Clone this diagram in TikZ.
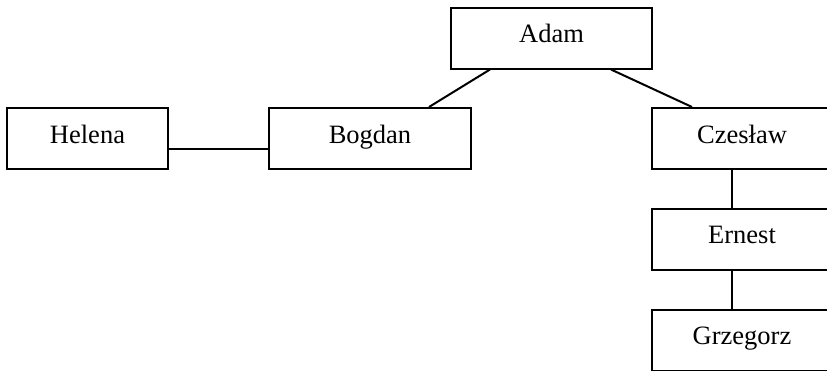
\documentclass[tikz,border=0pt]{standalone}
\usepackage{fontspec}
\setmainfont{Liberation Serif}
\begin{document}
\begin{tikzpicture}[x=1pt,y=-1pt,
  person/.style={draw,line width=2pt,inner sep=0pt,minimum height=61pt,text height=12pt,text depth=3pt,font=\fontsize{26.5}{30}\selectfont},
  link/.style={line width=2pt}]
\clip (0,0) rectangle (827,370);
\fill[white] (0,0) rectangle (827,370);
\node[person,minimum width=201pt] (adam) at (551.5,38) {Adam};
\node[person,minimum width=161pt] (helena) at (87.5,138.5) {Helena};
\node[person,minimum width=202pt] (bogdan) at (370,138.5) {Bogdan};
\node[person,minimum width=180pt] (czeslaw) at (742,138.5) {Czesław};
\node[person,minimum width=180pt] (ernest) at (742,239) {Ernest};
\node[person,minimum width=180pt] (grzegorz) at (742,340) {Grzegorz};
\draw[link] ([xshift=40pt]adam.south west) -- ([xshift=161pt]bogdan.north west);
\draw[link] ([xshift=161pt]adam.south west) -- ([xshift=41pt]czeslaw.north west);
\draw[link] ([yshift=-10.5pt]helena.east) -- ([yshift=-10.5pt]bogdan.west);
\draw[link] ([xshift=81pt]czeslaw.south west) -- ([xshift=81pt]ernest.north west);
\draw[link] ([xshift=81pt]ernest.south west) -- ([xshift=81pt]grzegorz.north west);
\end{tikzpicture}
\end{document}
